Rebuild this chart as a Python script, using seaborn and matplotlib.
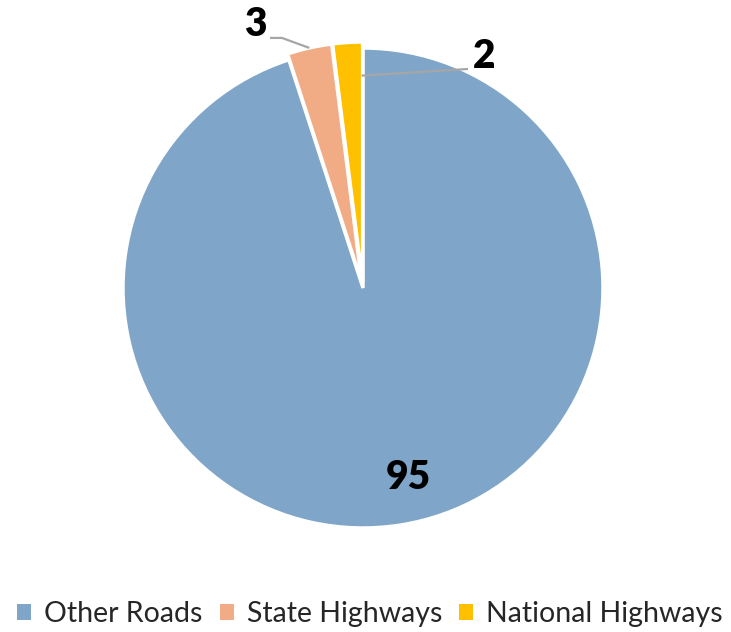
import numpy as np
import matplotlib
matplotlib.use("Agg")
import matplotlib.pyplot as plt
import seaborn as sns
from matplotlib.patches import Patch

sns.set_theme(style="white")
plt.rcParams['font.family'] = ['Lato', 'DejaVu Sans']

categories = ["Other Roads", "State Highways", "National Highways"]
values = [95, 3, 2]
colors = ["#7FA6C8", "#F2AC85", "#FFC000"]
explode = [0.0, 0.025, 0.025]

W, H = 731, 632
fig = plt.figure(figsize=(W / 100, H / 100), dpi=100)
cx, cy, R = 363, 288, 240
half = 260
ax = fig.add_axes([(cx - half) / W, (H - cy - half) / H, 2 * half / W, 2 * half / H])

wedges, _ = ax.pie(values, colors=colors, startangle=90, counterclock=False,
                   explode=explode, radius=1.0,
                   wedgeprops=dict(edgecolor="white", linewidth=2.5))
ax.set_xlim(-half / R, half / R)
ax.set_ylim(-half / R, half / R)
ax.set_aspect("equal")
ax.axis("off")

lab_kw = dict(fontsize=28, fontweight="heavy", color="black", ha="center", va="center")
line_kw = dict(color="#A6A6A6", lw=1.6, solid_capstyle="butt")

# 95 inside
ax.text(0.19, -0.79, str(values[0]), **lab_kw)

# 3 with leader line (text -> elbow -> wedge outer edge)
w = wedges[1]
th = np.deg2rad((w.theta1 + w.theta2) / 2)
cxw, cyw = w.center
p3 = (cxw + 1.0 * np.cos(th), cyw + 1.0 * np.sin(th))
ax.text(-0.45, 1.097, str(values[1]), **lab_kw)
ax.plot([-0.3875, -0.3375, p3[0]], [1.042, 1.042, p3[1]], clip_on=False, **line_kw)

# 2 with leader line (wedge edge -> text)
w = wedges[2]
th = np.deg2rad(min(w.theta1, w.theta2) + 0.3)
cxw, cyw = w.center
p2 = (cxw + 0.86 * np.cos(th), cyw + 0.86 * np.sin(th))
ax.text(0.505, 0.963, str(values[2]), **lab_kw)
ax.plot([p2[0], 0.4375], [p2[1], 0.9125], clip_on=False, **line_kw)

handles = [Patch(facecolor=c, edgecolor="none", label=l) for c, l in zip(colors, categories)]
fig.legend(handles=handles, loc="center", bbox_to_anchor=(370 / W, 1 - 614 / H),
           ncol=3, frameon=False, fontsize=20.5, handlelength=0.5, handleheight=0.5,
           handletextpad=0.45, columnspacing=0.6)

fig.savefig("out.png", dpi=100, facecolor="white")
